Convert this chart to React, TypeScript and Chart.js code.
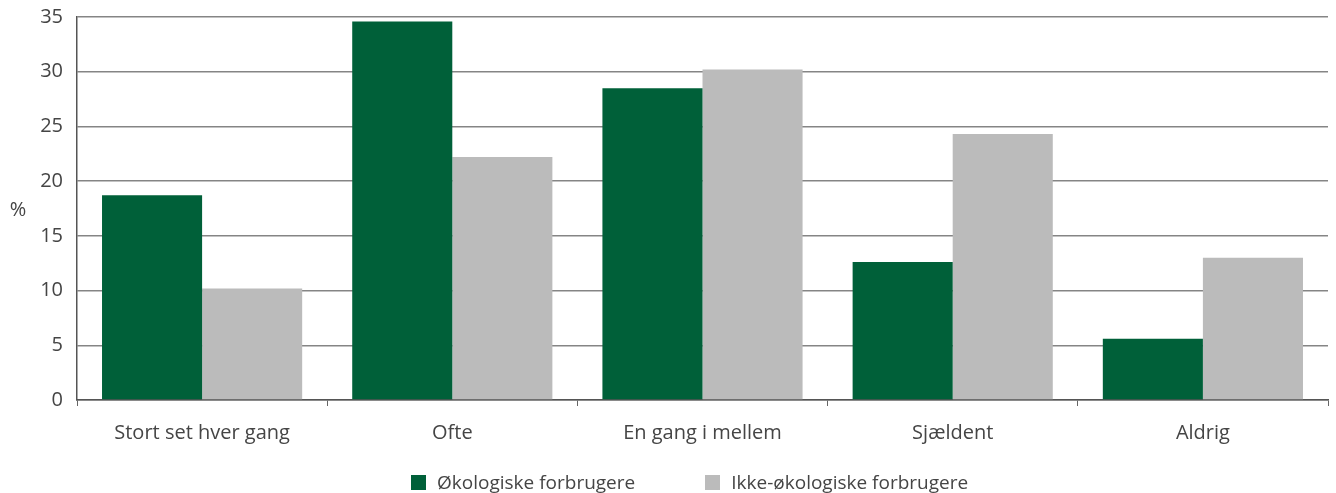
import React, { useEffect, useRef } from "react";
import { Chart, registerables } from "chart.js";

Chart.register(...registerables);

const categories = ["Stort set hver gang", "Ofte", "En gang i mellem", "Sjældent", "Aldrig"];
const seriesNames = ["Økologiske forbrugere", "Ikke-økologiske forbrugere"];
const organicValues = [18.7, 34.6, 28.5, 12.6, 5.6];
const nonOrganicValues = [10.2, 22.2, 30.2, 24.3, 13.0];
const seriesColors = ["#006039", "#BBBBBB"];
const yTitle = "%";

const FONT = "'Open Sans', 'Noto Sans', sans-serif";
const TEXT = "#454545";
const FS = 20;

const yTitlePlugin = {
  id: "yTitlePlugin",
  afterDraw(chart: any) {
    const { ctx, chartArea } = chart;
    ctx.save();
    ctx.font = `${FS}px ${FONT}`;
    ctx.fillStyle = TEXT;
    ctx.textAlign = "center";
    ctx.textBaseline = "middle";
    ctx.fillText(yTitle, 18, (chartArea.top + chartArea.bottom) / 2 + 2);
    ctx.restore();
  },
};

export default function App() {
  const ref = useRef<HTMLCanvasElement>(null);
  useEffect(() => {
    if (!ref.current) return;
    const chart = new Chart(ref.current, {
      type: "bar",
      data: {
        labels: categories,
        datasets: [
          { label: seriesNames[0], data: organicValues, backgroundColor: seriesColors[0], categoryPercentage: 0.8, barPercentage: 1.0 },
          { label: seriesNames[1], data: nonOrganicValues, backgroundColor: seriesColors[1], categoryPercentage: 0.8, barPercentage: 1.0 },
        ],
      },
      options: {
        animation: false,
        responsive: true,
        maintainAspectRatio: false,
        layout: { padding: { top: 17, right: 8, bottom: 33, left: 0 } },
        plugins: {
          legend: { display: false },
          tooltip: { enabled: false },
        },
        scales: {
          x: {
            grid: { display: true, drawOnChartArea: false, drawTicks: true, tickLength: 6, color: "#666666", offset: true },
            border: { display: true, color: "#555555", width: 1.5 },
            ticks: { color: TEXT, font: { family: FONT, size: FS }, padding: 15 },
          },
          y: {
            min: 0,
            max: 35,
            ticks: { stepSize: 5, color: TEXT, font: { family: FONT, size: FS }, padding: 14 },
            grid: { color: "#858585", lineWidth: 1.4, drawTicks: false },
            border: { display: true, color: "#555555", width: 1.5 },
            afterFit: (scale: any) => {
              scale.width = 77;
              scale.paddingTop = 0;
              scale.paddingBottom = 0;
            },
          },
        },
      },
      plugins: [yTitlePlugin],
    });
    return () => chart.destroy();
  }, []);

  return (
    <div style={{ position: "absolute", left: 0, top: 0, width: 1336, height: 493, background: "#fff" }}>
      <canvas ref={ref} style={{ display: "block" }} />
      <div
        style={{
          position: "absolute",
          left: 411,
          top: 469,
          display: "flex",
          fontFamily: FONT,
          fontSize: 19,
          color: TEXT,
          lineHeight: "26px",
          whiteSpace: "nowrap",
        }}
      >
        {seriesNames.map((name, i) => (
          <div key={name} style={{ display: "flex", alignItems: "center", marginLeft: i === 0 ? 0 : 70 }}>
            <span style={{ display: "inline-block", width: 15, height: 15, background: seriesColors[i], marginRight: 11 }} />
            <span>{name}</span>
          </div>
        ))}
      </div>
    </div>
  );
}
